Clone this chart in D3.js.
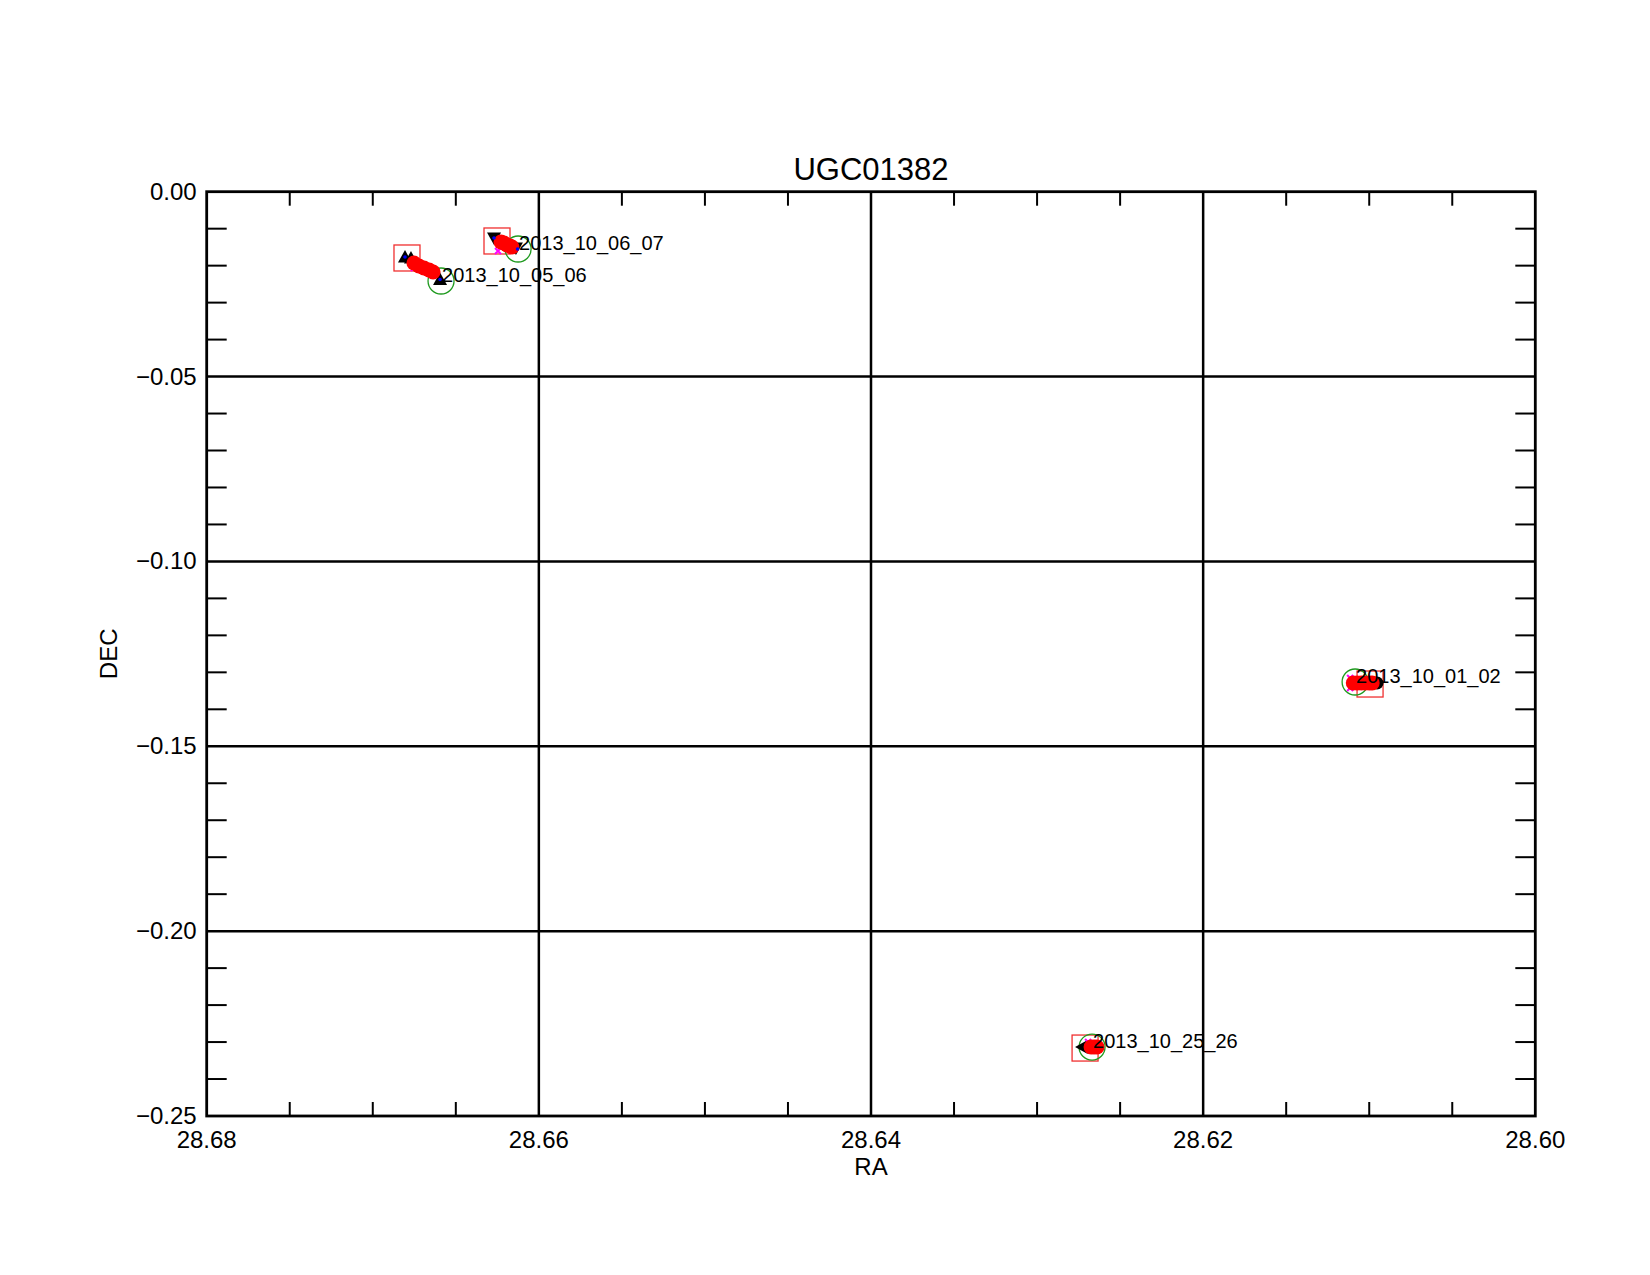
<!DOCTYPE html>
<html><head><meta charset="utf-8">
<script src="https://cdn.jsdelivr.net/npm/d3@7"></script>
<style>body{margin:0;background:#fff;} svg{display:block;font-family:"Liberation Sans",Arial,Helvetica,sans-serif;}</style>
</head><body>
<svg id="c" width="1650" height="1275"></svg>
<script>
// ---- data ----
const titleText = "UGC01382";
const xLabel = "RA";
const yLabel = "DEC";
const xTicks = [28.68, 28.66, 28.64, 28.62, 28.60];
const yTicks = [0.00, -0.05, -0.10, -0.15, -0.20, -0.25];
const labels = ["2013_10_05_06", "2013_10_06_07", "2013_10_01_02", "2013_10_25_26"];
// start of each track (red square)
const startRA  = [28.66794, 28.66252, 28.60995, 28.62711];
const startDEC = [-0.01793, -0.01333, -0.13316, -0.23162];
// end of each track (green circle, label anchor)
const endRA  = [28.66589, 28.66125, 28.61085, 28.62669];
const endDEC = [-0.02415, -0.01550, -0.13262, -0.23135];
// black markers
const blackRA    = [28.66806, 28.66770, 28.66595, 28.66270, 28.66138, 28.60953, 28.62729];
const blackDEC   = [-0.01766, -0.01793, -0.02375, -0.01252, -0.01523, -0.13289, -0.23135];
const blackShape = ["up", "up", "up", "down", "down", "dot", "left"];
// magenta crosses
const magRA  = [28.66752, 28.66246, 28.66170, 28.61115, 28.61115, 28.62693];
const magDEC = [-0.02064, -0.01604, -0.01570, -0.13154, -0.13424, -0.22999];
// red filled points
const redRA  = [28.66752, 28.66722, 28.66692, 28.66661, 28.66637,
                28.66228, 28.66210, 28.66192, 28.66174, 28.66162,
                28.61096, 28.61072, 28.61048, 28.61024, 28.61000, 28.60982,
                28.62675, 28.62657, 28.62639];
const redDEC = [-0.01929, -0.02010, -0.02064, -0.02118, -0.02172,
                -0.01361, -0.01388, -0.01442, -0.01469, -0.01496,
                -0.13289, -0.13289, -0.13289, -0.13289, -0.13289, -0.13289,
                -0.23135, -0.23135, -0.23135];
// blue dots
const blueRA  = [28.66806, 28.66595, 28.66270, 28.66128];
const blueDEC = [-0.01766, -0.02375, -0.01252, -0.01550];

// ---- layout ----
const svg = d3.select("#c");
const L = 206.7, T = 191.7, W = 1328.6, H = 924.3;
const x = d3.scaleLinear().domain([28.68, 28.60]).range([L, L + W]);
const y = d3.scaleLinear().domain([0, -0.25]).range([T, T + H]);

svg.append("rect").attr("width", 1650).attr("height", 1275).attr("fill", "#fff");

const g = svg.append("g");
// grid lines at major ticks
g.selectAll(".gx").data(xTicks.slice(1, -1)).join("line")
  .attr("x1", d => x(d)).attr("x2", d => x(d)).attr("y1", T).attr("y2", T + H)
  .attr("stroke", "#000").attr("stroke-width", 2.5);
g.selectAll(".gy").data(yTicks.slice(1, -1)).join("line")
  .attr("y1", d => y(d)).attr("y2", d => y(d)).attr("x1", L).attr("x2", L + W)
  .attr("stroke", "#000").attr("stroke-width", 2.5);

// minor ticks
const xMinor = d3.range(1, 16).map(i => 28.68 - i * 0.005).filter((d, i) => (i + 1) % 4 !== 0);
const yMinor = d3.range(1, 25).map(i => -i * 0.01).filter((d, i) => (i + 1) % 5 !== 0);
xMinor.forEach(d => {
  g.append("line").attr("x1", x(d)).attr("x2", x(d)).attr("y1", T + H).attr("y2", T + H - 14).attr("stroke", "#000").attr("stroke-width", 2);
  g.append("line").attr("x1", x(d)).attr("x2", x(d)).attr("y1", T).attr("y2", T + 14).attr("stroke", "#000").attr("stroke-width", 2);
});
yMinor.forEach(d => {
  g.append("line").attr("y1", y(d)).attr("y2", y(d)).attr("x1", L).attr("x2", L + 20).attr("stroke", "#000").attr("stroke-width", 2);
  g.append("line").attr("y1", y(d)).attr("y2", y(d)).attr("x1", L + W).attr("x2", L + W - 20).attr("stroke", "#000").attr("stroke-width", 2);
});

// frame
g.append("rect").attr("x", L).attr("y", T).attr("width", W).attr("height", H)
  .attr("fill", "none").attr("stroke", "#000").attr("stroke-width", 2.8);

// tick labels
g.selectAll(".xt").data(xTicks).join("text")
  .attr("x", d => x(d)).attr("y", T + H + 32).attr("text-anchor", "middle")
  .attr("font-size", 24).text(d => d3.format(".2f")(d));
g.selectAll(".yt").data(yTicks).join("text")
  .attr("x", L - 10).attr("y", d => y(d) + 8).attr("text-anchor", "end")
  .attr("font-size", 24).text(d => d3.format(".2f")(d).replace("-", "\u2212"));

// axis titles
svg.append("text").attr("x", L + W / 2).attr("y", 1175).attr("text-anchor", "middle").attr("font-size", 24).text(xLabel);
svg.append("text").attr("transform", `translate(117,${T + H / 2}) rotate(-90)`).attr("text-anchor", "middle").attr("font-size", 24).text(yLabel);
svg.append("text").attr("x", L + W / 2).attr("y", 180).attr("text-anchor", "middle").attr("font-size", 31).text(titleText);

// markers
const p = svg.append("g");
p.selectAll(".sq").data(startRA).join("rect")
  .attr("x", (d, i) => x(d) - 13).attr("y", (d, i) => y(startDEC[i]) - 13)
  .attr("width", 26).attr("height", 26).attr("fill", "none")
  .attr("stroke", "#f03030").attr("stroke-width", 1.3);
p.selectAll(".ci").data(endRA).join("circle")
  .attr("cx", d => x(d)).attr("cy", (d, i) => y(endDEC[i])).attr("r", 13)
  .attr("fill", "none").attr("stroke", "#1f9a1f").attr("stroke-width", 1.3);

const triPath = (cx, cy, shape) => {
  const s = 7;
  if (shape === "up") return `M${cx},${cy - s}L${cx + s},${cy + s * 0.8}L${cx - s},${cy + s * 0.8}Z`;
  if (shape === "down") return `M${cx},${cy + s}L${cx + s},${cy - s * 0.8}L${cx - s},${cy - s * 0.8}Z`;
  if (shape === "left") return `M${cx - s},${cy}L${cx + s * 0.8},${cy - s}L${cx + s * 0.8},${cy + s}Z`;
  return null;
};
blackRA.forEach((d, i) => {
  const cx = x(d), cy = y(blackDEC[i]);
  if (blackShape[i] === "dot") p.append("circle").attr("cx", cx).attr("cy", cy).attr("r", 6.5).attr("fill", "#000");
  else p.append("path").attr("d", triPath(cx, cy, blackShape[i])).attr("fill", "#000");
});
magRA.forEach((d, i) => {
  const cx = x(d), cy = y(magDEC[i]), s = 3;
  p.append("path").attr("d", `M${cx - s},${cy - s}L${cx + s},${cy + s}M${cx - s},${cy + s}L${cx + s},${cy - s}`)
    .attr("stroke", "#ff00ff").attr("stroke-width", 2);
});
p.selectAll(".rd").data(redRA).join("circle")
  .attr("cx", d => x(d)).attr("cy", (d, i) => y(redDEC[i])).attr("r", 7.5).attr("fill", "#ff0000");
p.selectAll(".bd").data(blueRA).join("circle")
  .attr("cx", d => x(d)).attr("cy", (d, i) => y(blueDEC[i])).attr("r", 1.8).attr("fill", "#0000ff");

// labels at track ends
p.selectAll(".lb").data(labels).join("text")
  .attr("x", (d, i) => x(endRA[i]) + 1).attr("y", (d, i) => y(endDEC[i]) + 1)
  .attr("font-size", 20).text(d => d);
</script>
</body></html>
